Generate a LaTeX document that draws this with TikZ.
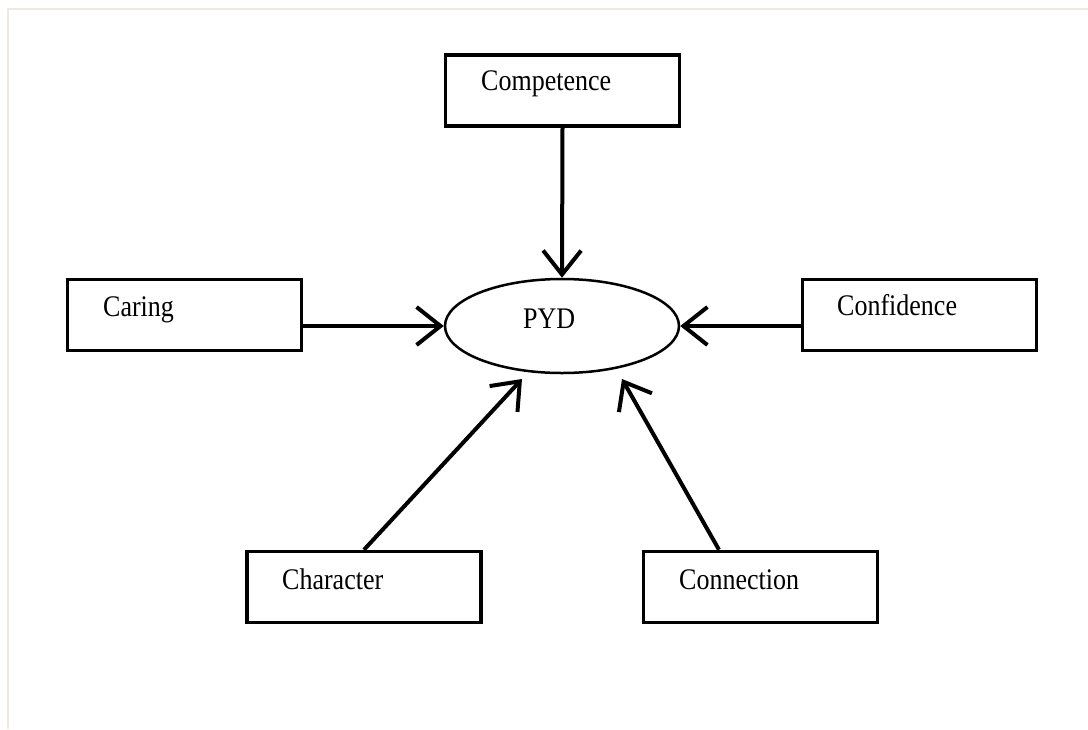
\documentclass[tikz,border=0pt]{standalone}
\usepackage{fontspec}
\setmainfont{Liberation Serif}
\usetikzlibrary{arrows.meta,shapes.geometric,calc}
\definecolor{framegray}{HTML}{EEEAE1}
\begin{document}
\begin{tikzpicture}[x=1pt,y=-1pt,
  box/.style={draw, line width=3.5pt, minimum width=234pt, minimum height=71pt, inner sep=0pt},
  lbl/.style={anchor=base west, inner sep=0pt, font=\fontsize{26}{30}\selectfont},
  conn/.style={line width=4pt, -{Straight Barb[length=24pt,width=38pt,line width=4pt]}}]
\useasboundingbox (0,0) rectangle (1088,729);
\draw[framegray, line width=2pt] (8,729) -- (8,9) -- (1088,9);
% boxes
\node[box] (comp) at (562.5,90.5) {};
\node[box] (caring) at (184.5,315) {};
\node[box] (conf) at (919.5,315) {};
\node[box] (char) at (364,587) {};
\node[box] (connb) at (760.5,587) {};
\node[draw, ellipse, line width=2.5pt, minimum width=234pt, minimum height=94pt, inner sep=0pt] (pyd) at (562,326) {};
% labels
\node[lbl] (tcomp) at (481,90) {\scalebox{1}[1.15]{Competence}};
\node[lbl] (tcaring) at (103,316) {\scalebox{1}[1.15]{Caring}};
\node[lbl] (tconf) at (837,315) {\scalebox{1}[1.15]{Confidence}};
\node[lbl] (tchar) at (282,589) {\scalebox{1}[1.15]{Character}};
\node[lbl] (tconn) at (679,589) {\scalebox{1}[1.15]{Connection}};
\node[lbl] (tpyd) at (523,328) {\scalebox{1}[1.15]{PYD}};
% arrows
\draw[conn] (comp.south) -- (pyd.north);
\draw[conn] (caring.east |- pyd.west) -- (pyd.west);
\draw[conn] (conf.west |- pyd.east) -- (pyd.east);
\draw[conn] (char.north) -- ($(pyd.center)+(-40,53)$);
\draw[conn] ([xshift=-41.5pt]connb.north) -- ($(pyd.center)+(60,53)$);
\end{tikzpicture}
\end{document}
